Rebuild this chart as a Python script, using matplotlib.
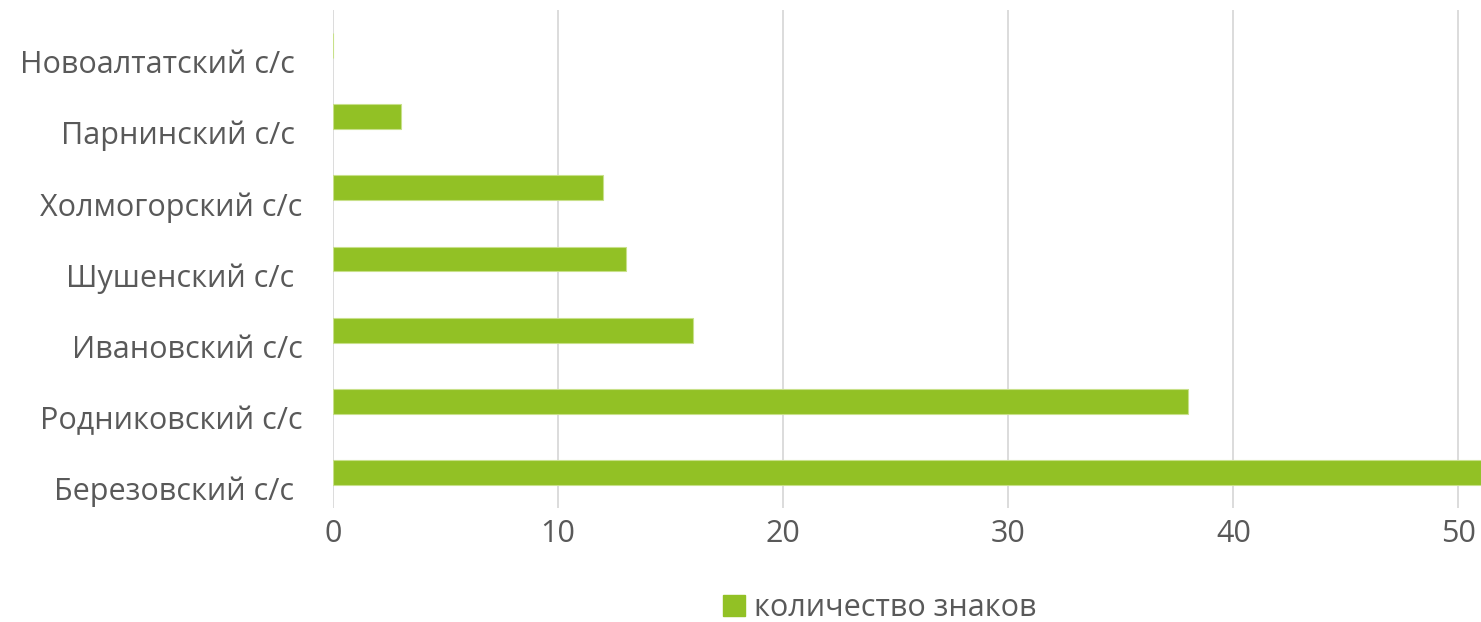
import matplotlib.pyplot as plt
import matplotlib.transforms as mtransforms
from matplotlib.patches import Patch

categories = ['Березовский с/с ', 'Родниковский с/с', 'Ивановский с/с',
              'Шушенский с/с ', 'Холмогорский с/с', 'Парнинский с/с ',
              'Новоалтатский с/с ']
values = [51, 38, 16, 13, 12, 3, 0]
series_name = 'количество знаков'

bar_color = '#92c125'
text_color = '#595959'
grid_color = '#d9d9d9'

plt.rcParams['font.family'] = ['Open Sans', 'DejaVu Sans']

fig = plt.figure(figsize=(14.81, 6.22), dpi=100)
ax = fig.add_axes([333 / 1481, 1 - 508 / 622, 1 - 333 / 1481, 498 / 622])

y = range(len(categories))
ax.barh(y, values, height=0.35, color=bar_color, edgecolor='#c8e08a',
        linewidth=0.8, zorder=3)

ax.set_xlim(0, 51)
ax.set_ylim(-0.5, len(categories) - 0.5)
ax.set_xticks(range(0, 51, 10))
ax.set_yticks(list(y))
ax.set_yticklabels(categories)

ax.grid(axis='x', color=grid_color, linewidth=1.3, zorder=0)
for s in ax.spines.values():
    s.set_visible(False)
ax.tick_params(axis='both', length=0, colors=text_color, labelsize=22)
ax.tick_params(axis='y', pad=22)
ax.tick_params(axis='x', pad=8)

# labels in the reference sit a bit below the bars
offset = mtransforms.ScaledTranslation(0, -0.16, fig.dpi_scale_trans)
for lbl in ax.get_yticklabels():
    lbl.set_transform(lbl.get_transform() + offset)

fig.legend(handles=[Patch(color=bar_color, label=series_name)],
           loc='center', bbox_to_anchor=(880 / 1481, 1 - 608 / 622),
           frameon=False, fontsize=22, labelcolor=text_color,
           handlelength=0.7, handleheight=0.7, handletextpad=0.3)

plt.savefig('out.png', dpi=100)
